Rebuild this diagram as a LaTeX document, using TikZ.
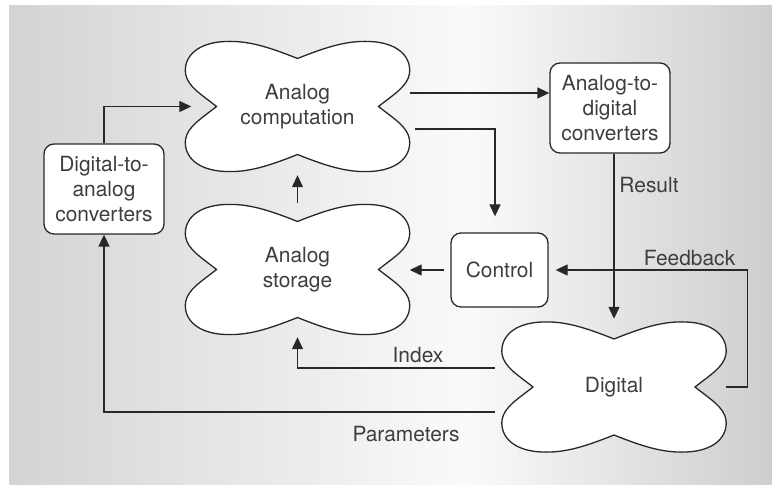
\documentclass[tikz,border=0pt]{standalone}
\usepackage{fontspec}
\setmainfont{TeX Gyre Heros}
\usetikzlibrary{arrows.meta}
\definecolor{bgl}{RGB}{211,212,214}
\definecolor{bgr}{RGB}{205,206,208}
\definecolor{bgm}{RGB}{250,250,250}
\definecolor{ink}{RGB}{40,40,40}
\definecolor{txt}{RGB}{62,62,62}
\pgfdeclarehorizontalshading{bgshade}{100bp}{color(0bp)=(bgl); color(25bp)=(bgl); color(55bp)=(bgm); color(75bp)=(bgr); color(100bp)=(bgr)}
\tikzset{
  cloudshape/.pic={
    \draw[draw=ink, line width=1.3bp, fill=white]
      (0,-48) .. controls (-30,-60) and (-50,-66) .. (-72,-65)
      .. controls (-100,-64) and (-114,-50) .. (-112,-33)
      .. controls (-110,-20) and (-96,-12) .. (-81,0)
      .. controls (-96,12) and (-110,20) .. (-112,33)
      .. controls (-114,50) and (-100,64) .. (-72,65)
      .. controls (-50,66) and (-30,60) .. (0,48)
      .. controls (30,60) and (50,66) .. (72,65)
      .. controls (100,64) and (114,50) .. (112,33)
      .. controls (110,20) and (96,12) .. (81,0)
      .. controls (96,-12) and (110,-20) .. (112,-33)
      .. controls (114,-50) and (100,-64) .. (72,-65)
      .. controls (50,-66) and (30,-60) .. (0,-48) -- cycle;
  },
  txtfont/.style={font=\fontsize{21}{25}\selectfont, text=txt},
  blob/.style={txtfont, align=center, inner sep=0pt, minimum width=224bp, minimum height=132bp},
  box/.style={txtfont, align=center, draw=ink, fill=white, line width=1.3bp, rounded corners=10bp, inner sep=0pt},
  conn/.style={draw=ink, line width=1.3bp, -{Triangle[length=12bp,width=11bp]}},
  lbl/.style={txtfont, inner sep=0pt}
}
\begin{document}
\begin{tikzpicture}[x=1bp,y=-1bp]
\useasboundingbox (0,0) rectangle (772,485);
\shade[shading=bgshade] (9,6) rectangle (772,485);

% clouds
\pic at (297.5,106.5) {cloudshape};
\node[blob] (comp) at (297.5,106.5) {Analog\\computation};
\pic at (297.5,269.5) {cloudshape};
\node[blob] (stor) at (297.5,269.5) {Analog\\storage};
\pic at (614,387) {cloudshape};
\node[blob] (dig) at (614,387) {Digital};

% boxes
\node[box, minimum width=120bp, minimum height=90bp] (adc) at (610,108) {Analog-to-\\digital\\converters};
\node[box, minimum width=120bp, minimum height=90bp] (dac) at (104,189) {Digital-to-\\analog\\converters};
\node[box, minimum width=97bp, minimum height=74bp] (ctrl) at (499.5,270) {Control};

% helper coordinates
\coordinate (c1) at ([yshift=13.5bp]comp.east);
\coordinate (c2) at ([xshift=5bp,yshift=-22.5bp]comp.east);
\coordinate (c2e) at ([xshift=-4.5bp,yshift=16bp]ctrl.north);
\coordinate (c3) at ([xshift=-6bp]ctrl.west);
\coordinate (rs) at (adc.south -| dig.north);
\coordinate (ix) at ([xshift=-7bp,yshift=19bp]dig.west);
\coordinate (px) at ([xshift=-7bp,yshift=-25bp]dig.west);

% connectors
\draw[conn] (dac.north) |- ([xshift=6bp]comp.west);
\draw[conn] (c1) -- (c1 -| adc.west);
\draw[conn] (c2) -| (c2e);
\draw[conn] (stor.north) -- ([yshift=-2.5bp]comp.south);
\draw[conn] (c3) -- (c3 -| stor.east);
\draw[conn] (dig.east) -- ++(21,0) |- ([xshift=7bp]ctrl.east);
\draw[conn] (rs) -- ([yshift=2bp]dig.north);
\draw[conn] (ix) -| ([yshift=-1.5bp]stor.south);
\draw[conn] (px) -| (dac.south);

% labels
\node[lbl] (lres) at (649,185) {Result};
\node[lbl] (lfb) at (689.5,258) {Feedback};
\node[lbl] (lix) at (418,355) {Index};
\node[lbl] (lpar) at (406,434) {Parameters};
\end{tikzpicture}
\end{document}
